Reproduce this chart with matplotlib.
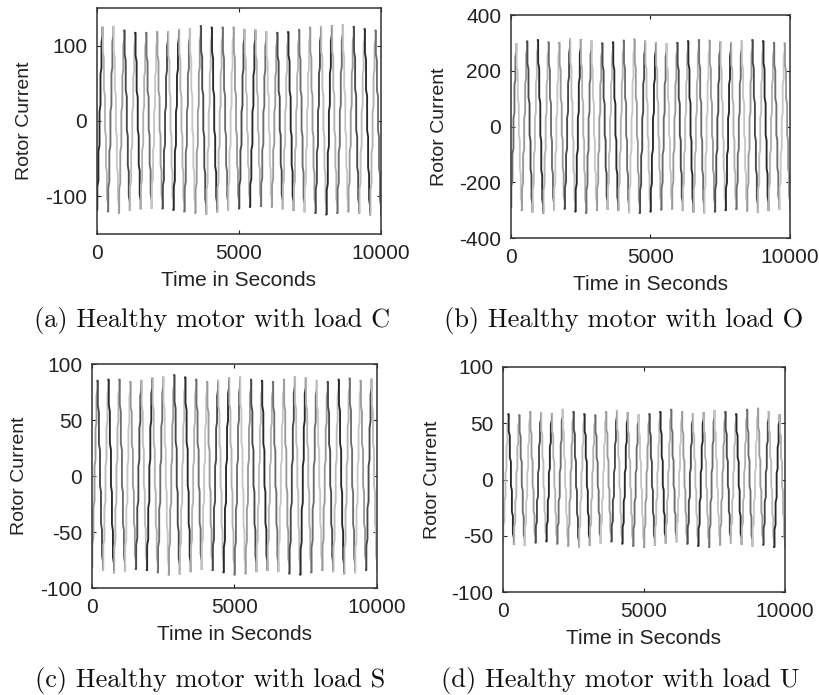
import numpy as np
import matplotlib
matplotlib.use("Agg")
import matplotlib.pyplot as plt

# Peak values of each cycle (positive and negative half)
peaks_c = [124, 125, 120, 117, 117, 118, 118, 121, 122, 126, 124, 124, 124,
           121, 120, 118, 117, 118, 121, 124, 125, 126, 127, 125, 122, 120]
troughs_c = [-118, -120, -122, -118, -116, -115, -116, -118, -120, -122, -123, -120, -118,
             -116, -114, -113, -114, -116, -118, -120, -122, -124, -122, -120, -122, -124]

peaks_o = [295, 305, 310, 302, 300, 312, 310, 305, 298, 302, 308, 312, 305,
           300, 296, 300, 306, 310, 308, 302, 300, 305, 310, 306, 300, 298]
troughs_o = [-290, -300, -305, -310, -300, -295, -305, -310, -300, -296, -300, -308, -310,
             -305, -298, -295, -300, -305, -310, -305, -300, -296, -302, -306, -300, -295]

peaks_s = [85, 86, 86, 84, 85, 87, 88, 90, 88, 86, 84, 85, 87,
           88, 86, 85, 84, 86, 88, 87, 85, 84, 86, 87, 85, 86]
troughs_s = [-82, -84, -86, -85, -83, -84, -86, -88, -87, -85, -83, -84, -86,
             -88, -87, -85, -84, -85, -87, -88, -86, -84, -85, -87, -86, -84]

peaks_u = [58, 57, 60, 59, 58, 62, 60, 58, 57, 60, 61, 59, 57,
           58, 60, 62, 60, 58, 59, 61, 60, 58, 62, 63, 60, 57]
troughs_u = [-55, -57, -58, -56, -55, -57, -59, -60, -58, -56, -55, -57, -59,
             -60, -58, -56, -55, -57, -59, -60, -58, -56, -57, -59, -58, -60]

# staircase of one rising stroke (trough -> peak): step start (fraction of half cycle)
# and level (fraction of amplitude); the falling stroke is the mirror image
step_phase = [0.00, 0.06, 0.26, 0.46, 0.64, 0.82]
step_level = [-1.00, -0.74, -0.34, 0.10, 0.50, 0.84]
step_drift = 0.07

t_end = 10000
captions = ["(a) Healthy motor with load C", "(b) Healthy motor with load O",
            "(c) Healthy motor with load S", "(d) Healthy motor with load U"]

W, H = 820, 695
# axes boxes in pixels: left, top, right, bottom
boxes = [(97, 8, 381, 234), (511, 15, 790, 238), (92, 364, 377, 588), (503, 367, 785, 592)]
cap_pos = [(212, 321), (624, 321), (210, 680), (620, 680)]
ylims = [(-150, 150), (-400, 400), (-100, 100), (-100, 100)]
yticks = [[-100, 0, 100], [-400, -200, 0, 200, 400],
          [-100, -50, 0, 50, 100], [-100, -50, 0, 50, 100]]
ylabel_right = [33, 448, 28, 441]
shades = ["#2a2a2a", "#b2b2b2", "#6e6e6e", "#c6c6c6", "#9a9a9a", "#4a4a4a", "#bcbcbc"]

plt.rcParams["font.family"] = ["Liberation Sans", "DejaVu Sans"]
plt.rcParams["axes.unicode_minus"] = False

fig = plt.figure(figsize=(W / 100, H / 100), dpi=100)

series = [(peaks_c, troughs_c), (peaks_o, troughs_o), (peaks_s, troughs_s), (peaks_u, troughs_u)]


def stroke(t0, half, lo, hi, sign):
    # one staircase stroke; sign=+1 rising, -1 falling
    ts, ys = [], []
    for j, (p, lv) in enumerate(zip(step_phase, step_level)):
        p1 = step_phase[j + 1] if j + 1 < len(step_phase) else 1.0
        scale = lo if lv < 0 else hi
        a = lv * scale
        bb = (lv + step_drift) * scale if j > 0 else a
        ts += [t0 + p * half, t0 + p1 * half]
        ys += [sign * a, sign * bb]
    ts.append(t0 + half)
    ys.append(sign * hi)
    return ts, ys


for i, ((pk, tr), box) in enumerate(zip(series, boxes)):
    l, t, r, b = box
    ax = fig.add_axes([l / W, 1 - b / H, (r - l) / W, (b - t) / H])
    period = t_end / len(pk)
    half = period / 2
    n = i * 2
    for k in range(len(pk)):
        nxt = abs(tr[k + 1]) if k + 1 < len(tr) else abs(tr[k])
        for ts, ys in (stroke(k * period, half, abs(tr[k]), pk[k], 1),
                       stroke(k * period + half, half, pk[k], nxt, -1)):
            ax.plot(ts, ys, color=shades[n % len(shades)], lw=1.35)
            n += 1
    ax.set_xlim(0, t_end)
    ax.set_ylim(*ylims[i])
    ax.set_xticks([0, 5000, 10000])
    ax.set_yticks(yticks[i])
    ax.tick_params(direction="in", length=3, top=True, right=True, labelsize=15, pad=7,
                   colors="#222222", labelcolor="#222222")
    for s in ax.spines.values():
        s.set_linewidth(1.1)
        s.set_color("#333333")
    ax.set_xlabel("Time in Seconds", fontsize=15, labelpad=6, color="#222222")
    ax.set_ylabel("Rotor Current", fontsize=14, color="#222222")
    ax.yaxis.set_label_coords((ylabel_right[i] - l) / (r - l), 0.5)
    cx, cy = cap_pos[i]
    fig.text(cx / W, 1 - cy / H, captions[i], family="cmr10",
             fontsize=19, ha="center", va="center", color="#111111")

fig.savefig("out.png", dpi=100)
